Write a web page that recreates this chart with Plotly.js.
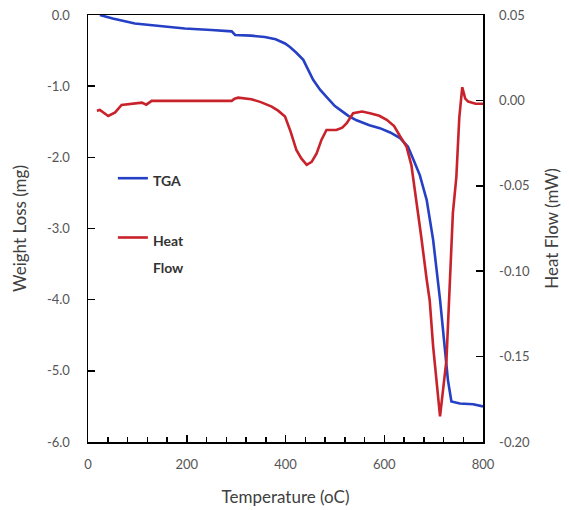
<!DOCTYPE html>
<html>
<head>
<meta charset="utf-8">
<script src="https://cdn.plot.ly/plotly-3.0.1.min.js"></script>
<style>html,body{margin:0;padding:0;background:#fff;}#chart{width:569px;height:510px;}</style>
</head>
<body>
<div id="chart"></div>
<script>
// TGA: temperature (°C) vs weight loss (mg)
const tgaTemp = [24, 50, 95, 150, 196, 250, 291, 298, 330, 358, 380, 399, 409, 422, 436, 456, 470, 483, 500, 510, 528, 544, 570, 591, 612, 632, 648, 659, 672, 686, 699, 713, 723, 729, 736, 753, 780, 800];
const tgaWeight = [0, -0.05, -0.12, -0.16, -0.19, -0.21, -0.23, -0.28, -0.29, -0.31, -0.34, -0.40, -0.45, -0.53, -0.63, -0.91, -1.05, -1.15, -1.28, -1.33, -1.42, -1.48, -1.55, -1.59, -1.65, -1.73, -1.85, -2.03, -2.25, -2.6, -3.16, -4.0, -4.66, -5.13, -5.43, -5.46, -5.47, -5.50];

// Heat flow: temperature (°C) vs heat flow (mW)
const hfTemp = [18, 24, 41, 55, 68, 90, 109, 118, 129, 200, 291, 297, 304, 331, 350, 372, 385, 399, 410, 422, 432, 443, 453, 463, 473, 483, 493, 503, 515, 524, 537, 555, 571, 590, 605, 620, 632, 645, 655, 662, 675, 686, 692, 699, 713, 726, 733, 739, 746, 752, 758, 764, 770, 785, 800];
const hfValue = [-0.006, -0.0056, -0.0091, -0.007, -0.0027, -0.0018, -0.0013, -0.0025, -0.0003, -0.0003, -0.0003, 0.001, 0.0016, 0.0007, -0.001, -0.0036, -0.006, -0.0095, -0.018, -0.029, -0.034, -0.0377, -0.036, -0.031, -0.023, -0.0173, -0.0175, -0.0173, -0.016, -0.0134, -0.0075, -0.0065, -0.0075, -0.009, -0.0114, -0.015, -0.021, -0.027, -0.038, -0.052, -0.08, -0.105, -0.117, -0.144, -0.185, -0.152, -0.105, -0.066, -0.045, -0.01, 0.0077, 0.001, -0.0007, -0.002, -0.002];

const xTickVals = [0, 200, 400, 600, 800];
const xTickText = ["0", "200", "400", "600", "800"];
const xMinorVals = [40, 80, 120, 160, 240, 280, 320, 360, 440, 480, 520, 560, 640, 680, 720, 760];
const yTickVals = [0, -1, -2, -3, -4, -5, -6];
const yTickText = ["0.0", "-1.0", "-2.0", "-3.0", "-4.0", "-5.0", "-6.0"];
const y2TickVals = [0.05, 0, -0.05, -0.10, -0.15, -0.20];
const y2TickText = ["0.05", "0.00", "-0.05", "-0.10", "-0.15", "-0.20"];

const font = "Lato, 'Open Sans', sans-serif";
const tickFont = {family: font, size: 13, color: "#555"};
const titleFont = {family: font, size: 17, color: "#404040"};

const traces = [
  {x: tgaTemp, y: tgaWeight, type: "scatter", mode: "lines",
   name: "<span style='font-size:14px'><b>TGA</b></span>",
   line: {color: "#2540c4", width: 2.6}, yaxis: "y", legendgroup: "a"},
  {x: hfTemp, y: hfValue, type: "scatter", mode: "lines",
   name: "<span style='font-size:14px'><b>Heat</b></span><br><span style='font-size:14px'><b>Flow</b></span>",
   line: {color: "#c8222a", width: 2.6}, yaxis: "y2", legendgroup: "b"}
];

const layout = {
  width: 569, height: 510,
  margin: {l: 88, r: 86, t: 15, b: 68},
  paper_bgcolor: "#fff", plot_bgcolor: "#fff",
  showlegend: true,
  legend: {x: 0.063, y: 0.665, xanchor: "left", yanchor: "top", bgcolor: "rgba(0,0,0,0)",
           font: {family: font, size: 21, color: "#333"}, tracegroupgap: 29, valign: "top",
           itemwidth: 30},
  xaxis: {range: [0, 800], tickvals: xTickVals, ticktext: xTickText, ticks: "inside", ticklen: 7,
          tickcolor: "#000", tickwidth: 1.5,
          minor: {tickvals: xMinorVals, ticks: "inside", ticklen: 5, tickcolor: "#000", tickwidth: 1.5},
          showline: true, linecolor: "#000", linewidth: 1.5, mirror: true, showgrid: false, zeroline: false,
          tickfont: tickFont, ticklabelstandoff: 10,
          title: {text: "Temperature (oC)", font: titleFont, standoff: 20}},
  yaxis: {range: [-6, 0], tickvals: yTickVals, ticktext: yTickText, ticks: "inside", ticklen: 7,
          tickcolor: "#000", tickwidth: 1.5, showline: true, linecolor: "#000", linewidth: 1.5,
          showgrid: false, zeroline: false, tickfont: tickFont, ticklabelstandoff: 14,
          title: {text: "Weight Loss (mg)", font: titleFont, standoff: 16}},
  yaxis2: {range: [-0.20, 0.05], overlaying: "y", side: "right", tickvals: y2TickVals, ticktext: y2TickText,
           ticks: "inside", ticklen: 7, tickcolor: "#000", tickwidth: 1.5, showline: true, linecolor: "#000",
           linewidth: 1.5, showgrid: false, zeroline: false, tickfont: tickFont, ticklabelstandoff: 12,
           title: {text: "Heat Flow (mW)", font: titleFont, standoff: 17}}
};

Plotly.newPlot("chart", traces, layout, {displayModeBar: false, staticPlot: true});
</script>
</body>
</html>
